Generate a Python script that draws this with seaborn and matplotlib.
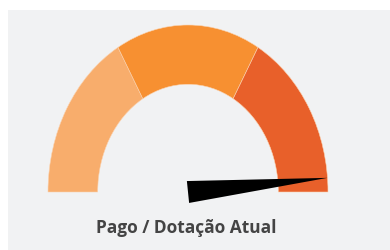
import numpy as np
import matplotlib
matplotlib.use("Agg")
import matplotlib.pyplot as plt
from matplotlib.patches import Wedge, Polygon
import seaborn as sns

# gauge data
band_names = ["baixo", "medio", "alto"]
band_sizes = [1, 1, 1]
band_colors = ["#f8ad6c", "#f79031", "#e8602a"]
value = 97.3          # pago / dotacao atual (%)
gauge_max = 100.0
label = "Pago / Dotação Atual"

sns.set_theme(style="white")
plt.rcParams['font.family'] = ['Open Sans', 'DejaVu Sans']

fig = plt.figure(figsize=(3.9, 2.5), dpi=100)
fig.patch.set_facecolor("white")
ax = fig.add_axes([8 / 390, 0, 382 / 390, 240 / 250])
ax.set_facecolor("#f1f2f3")

# pixel scale of one data unit (gauge is slightly taller than wide)
sx, sy = 140.0, 167.0
cx, cy = 188.0, 192.0
ax.set_xlim((8 - cx) / sx, (390 - cx) / sx)
ax.set_ylim(-(250 - cy) / sy, (cy - 10) / sy)

r_out, r_in = 1.0, 0.645
total = sum(band_sizes)
start = 180.0
for name, size, col in zip(band_names, band_sizes, band_colors):
    span = 180.0 * size / total
    w = Wedge((0, 0), r_out, start - span, start, width=r_out - r_in,
              facecolor=col, edgecolor="#fbd3b0", linewidth=0.4)
    ax.add_patch(w)
    start -= span

# needle
theta = np.deg2rad(180.0 * (1 - value / gauge_max))
tip = np.array([r_out * np.cos(theta), r_out * np.sin(theta)])
half_px = 11.0
perp = np.array([-sy * np.sin(theta), sx * np.cos(theta)])
perp = perp / np.hypot(*perp) * half_px
p1 = np.array([perp[0] / sx, perp[1] / sy])
needle = Polygon([p1, -p1, tip], closed=True, facecolor="black", edgecolor="none")
ax.add_patch(needle)

ax.text(-0.01, -0.215, label, ha="center", va="center", fontsize=12.5,
        fontweight="bold", color="#444444")

ax.set_xticks([])
ax.set_yticks([])
for s in ax.spines.values():
    s.set_visible(False)

fig.savefig("out.png", dpi=100, facecolor=fig.get_facecolor())
